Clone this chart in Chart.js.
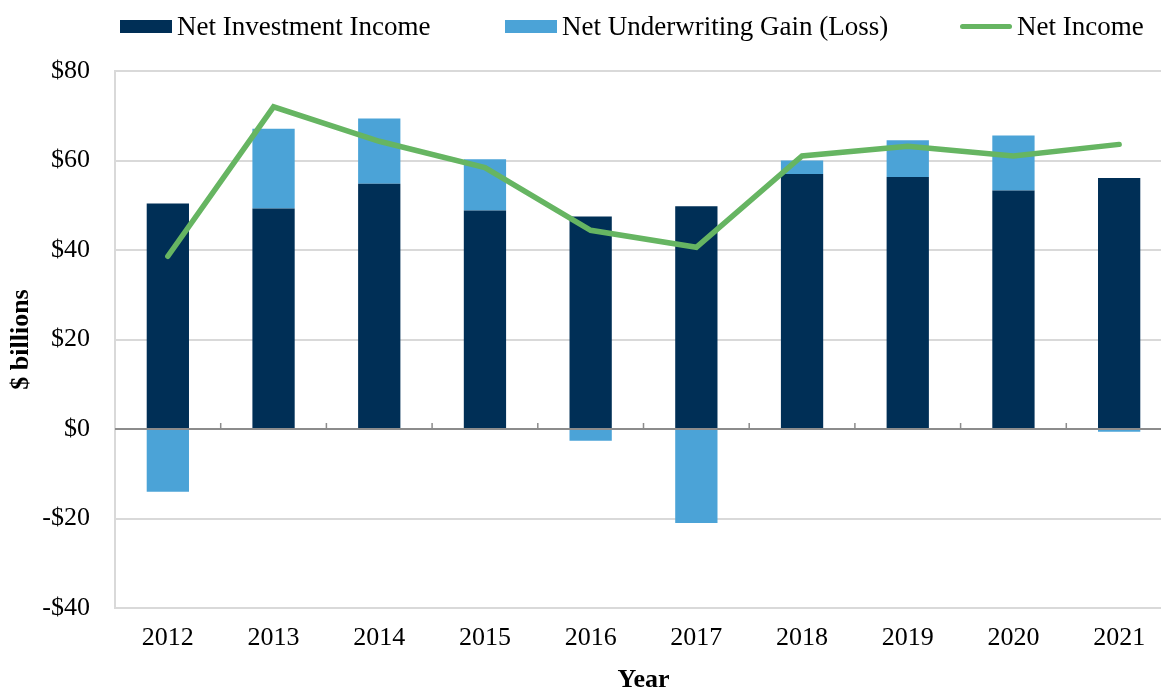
<!DOCTYPE html>
<html>
<head>
<meta charset="utf-8">
<script src="https://cdn.jsdelivr.net/npm/chart.js@4.4.0/dist/chart.umd.min.js"></script>
<style>
  html, body { margin: 0; padding: 0; background: #fff; overflow: hidden; }
  #wrap { position: relative; width: 1172px; height: 687px; }
  #legend { position: absolute; left: 0; top: 0; width: 1172px; height: 50px; font-family: 'Liberation Serif', 'Times New Roman', serif; font-size: 27px; color: #000; }
  .item { position: absolute; top: 10px; display: flex; align-items: center; height: 32px; white-space: nowrap; }
  .swatch { width: 52px; height: 13px; margin-right: 5px; }
  .swatch.line { height: 5px; border-radius: 3px; margin-right: 5px; }
</style>
</head>
<body>
<div id="wrap">
  <div id="legend"></div>
  <canvas id="chart"></canvas>
</div>
<script>
// Data
const years = ['2012', '2013', '2014', '2015', '2016', '2017', '2018', '2019', '2020', '2021'];
const netInvestmentIncome = [50.4, 49.3, 54.8, 48.8, 47.5, 49.8, 57.0, 56.3, 53.3, 56.1];
const underwritingGain = [-14.0, 17.8, 14.6, 11.5, -2.6, -21.0, 3.0, 8.2, 12.3, -0.6];
const netIncome = [38.6, 72.0, 64.3, 58.4, 44.4, 40.6, 61.0, 63.2, 61.0, 63.6];
const yTicks = [-40, -20, 0, 20, 40, 60, 80];

const NAVY = '#002f56';
const BLUE = '#4ba3d7';
const GREEN = '#66b562';
const FONT = "'Liberation Serif', 'Times New Roman', serif";

// Legend (drawn as html so the box/text gap matches)
const legendItems = [
    { label: 'Net Investment Income', color: NAVY, left: 120, line: false },
    { label: 'Net Underwriting Gain (Loss)', color: BLUE, left: 505, line: false },
    { label: 'Net Income', color: GREEN, left: 960, line: true }
];
const legendEl = document.getElementById('legend');
legendItems.forEach(it => {
    const div = document.createElement('div');
    div.className = 'item';
    div.style.left = it.left + 'px';
    const sw = document.createElement('span');
    sw.className = 'swatch' + (it.line ? ' line' : '');
    sw.style.background = it.color;
    const tx = document.createElement('span');
    tx.textContent = it.label;
    div.appendChild(sw);
    div.appendChild(tx);
    legendEl.appendChild(div);
});

// small category ticks sitting on the zero line
const zeroTicks = {
    id: 'zeroTicks',
    afterDatasetsDraw(chart) {
        const x = chart.scales.x;
        const y = chart.scales.y;
        const y0 = y.getPixelForValue(0);
        const ctx = chart.ctx;
        ctx.save();
        ctx.strokeStyle = '#8c8c8c';
        ctx.lineWidth = 1.5;
        ctx.beginPath();
        for (let i = 1; i < years.length; i++) {
            const px = (x.getPixelForTick(i - 1) + x.getPixelForTick(i)) / 2;
            ctx.moveTo(px, y0);
            ctx.lineTo(px, y0 - 6);
        }
        ctx.stroke();
        // zero axis line on top of bars
        ctx.lineWidth = 2;
        ctx.beginPath();
        ctx.moveTo(chart.chartArea.left, y0);
        ctx.lineTo(chart.chartArea.right, y0);
        ctx.stroke();
        ctx.restore();
    }
};

const ctx = document.getElementById('chart').getContext('2d');
new Chart(ctx, {
    type: 'bar',
    data: {
        labels: years,
        datasets: [
            {
                type: 'line',
                label: 'Net Income',
                data: netIncome,
                borderColor: GREEN,
                backgroundColor: GREEN,
                borderWidth: 5.5,
                borderCapStyle: 'round',
                borderJoinStyle: 'miter',
                pointRadius: 0,
                tension: 0,
                stack: 'line',
                order: 0
            },
            {
                label: 'Net Investment Income',
                data: netInvestmentIncome,
                backgroundColor: NAVY,
                stack: 'bars',
                order: 1,
                categoryPercentage: 1,
                barPercentage: 0.4
            },
            {
                label: 'Net Underwriting Gain (Loss)',
                data: underwritingGain,
                backgroundColor: BLUE,
                stack: 'bars',
                order: 2,
                categoryPercentage: 1,
                barPercentage: 0.4
            }
        ]
    },
    options: {
        responsive: true,
        maintainAspectRatio: false,
        animation: false,
        layout: {
            padding: { top: 71, right: 0, bottom: 0, left: 0 }
        },
        plugins: {
            legend: { display: false },
            tooltip: { enabled: false }
        },
        scales: {
            x: {
                stacked: true,
                grid: { display: false, drawTicks: false },
                border: { display: false },
                ticks: {
                    color: '#000',
                    padding: 15,
                    font: { family: FONT, size: 26 }
                },
                title: {
                    display: true,
                    text: 'Year',
                    color: '#000',
                    padding: { top: 0, bottom: -9 },
                    font: { family: FONT, size: 26, weight: 'bold' }
                },
                afterFit(scale) { scale.height = 79; }
            },
            y: {
                stacked: true,
                min: -40,
                max: 80,
                afterBuildTicks(scale) {
                    scale.ticks = yTicks.map(v => ({ value: v }));
                },
                grid: {
                    color: '#d9d9d9',
                    lineWidth: 2,
                    drawTicks: false
                },
                border: { display: true, color: '#d9d9d9', width: 2 },
                ticks: {
                    color: '#000',
                    padding: 25,
                    font: { family: FONT, size: 26 },
                    callback: v => (v < 0 ? '-$' + Math.abs(v) : '$' + v)
                },
                title: {
                    display: true,
                    text: '$ billions',
                    color: '#000',
                    padding: { top: 6, bottom: 0 },
                    font: { family: FONT, size: 26, weight: 'bold' }
                },
                afterFit(scale) { scale.width = 115; }
            }
        }
    },
    plugins: [zeroTicks]
});
</script>
</body>
</html>
